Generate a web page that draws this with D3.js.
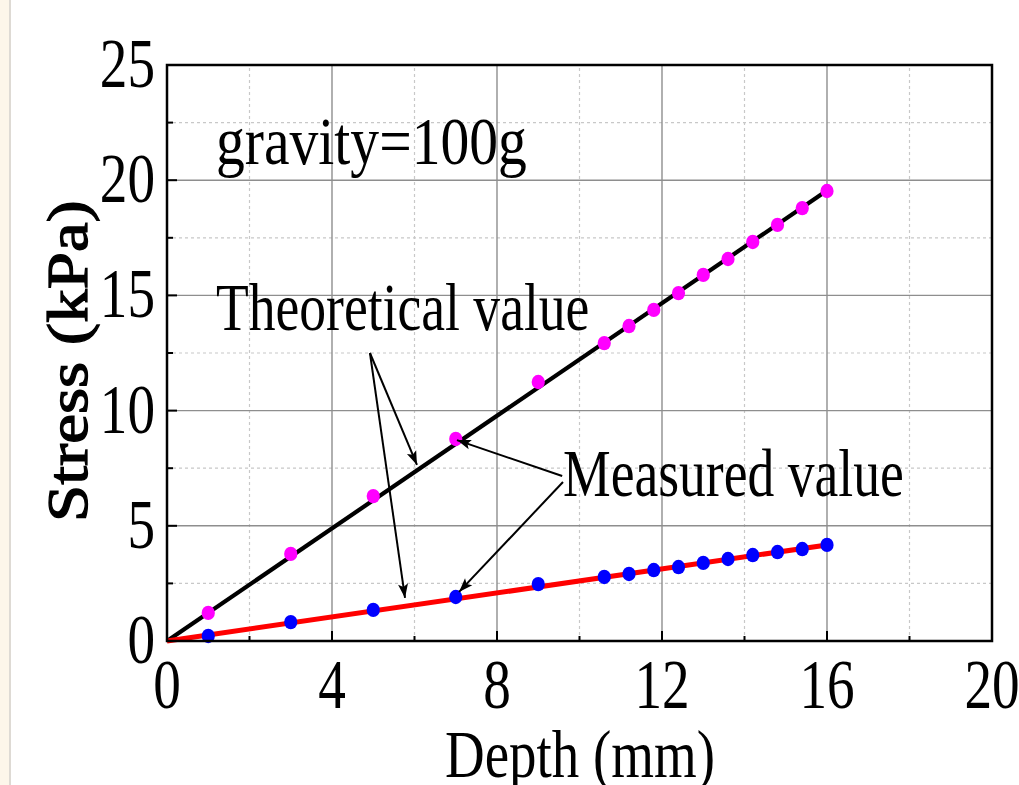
<!DOCTYPE html>
<meta charset="utf-8">
<script src="https://cdn.jsdelivr.net/npm/d3@7"></script>
<style>
  body { margin: 0; background: #fff; }
  text { font-family: "Liberation Serif", "DejaVu Serif", serif; fill: #000; }
</style>
<body>
<script>

var width = 1019
var height = 785

// measured points
var depth = [1, 3, 5, 7, 9, 10.6, 11.2, 11.8, 12.4, 13, 13.6, 14.2, 14.8, 15.4, 16]
var stressHigh = [1.22, 3.78, 6.29, 8.77, 11.24, 12.93, 13.67, 14.37, 15.10, 15.89, 16.58, 17.32, 18.06, 18.79, 19.53]
var stressLow = [0.22, 0.82, 1.35, 1.91, 2.47, 2.78, 2.91, 3.08, 3.21, 3.39, 3.56, 3.73, 3.86, 3.99, 4.17]

// theoretical lines
var theoryDepth = [0, 16]
var theoryHigh = [0, 19.55]
var theoryLow = [0, 4.17]

var xTicks = [0, 4, 8, 12, 16, 20]
var xMinor = [2, 6, 10, 14, 18]
var yTicks = [0, 5, 10, 15, 20, 25]
var yMinor = [2.5, 7.5, 12.5, 17.5, 22.5]

// annotation arrows, [fromDepth, fromStress, toDepth, toStress]
var theoryArrows = [[4.92, 12.5, 6.06, 7.64], [4.92, 12.5, 5.77, 1.87]]
var measuredArrows = [[9.58, 7.16, 7.03, 8.72], [9.6, 6.9, 7.08, 2.13]]

var x = d3.scaleLinear().domain([0, 20]).range([167, 992])
var y = d3.scaleLinear().domain([0, 25]).range([641, 65])

var svg = d3.select("body").append("svg")
            .attr("width", width)
            .attr("height", height)

// page edge strip
svg.append("rect").attr("x", 0).attr("y", 0).attr("width", 9).attr("height", height)
   .style("fill", "#fdf6ea")
svg.append("rect").attr("x", 9).attr("y", 0).attr("width", 2).attr("height", height)
   .style("fill", "#dedad4")

svg.append("defs").append("marker")
   .attr("id", "head")
   .attr("viewBox", "0 -6 14 12")
   .attr("refX", 14)
   .attr("refY", 0)
   .attr("orient", "auto")
   .attr("markerUnits", "userSpaceOnUse")
   .attr("markerWidth", 15)
   .attr("markerHeight", 12)
   .append("path")
   .attr("d", "M0,-5 L14,0 L0,5 L3,0 Z")
   .style("fill", "#000")

var grid = svg.append("g")

grid.selectAll(".vminor").data(xMinor).enter().append("line")
    .attr("x1", d => x(d)).attr("x2", d => x(d))
    .attr("y1", y(0)).attr("y2", y(25))
    .style("stroke", "#c8c8c8").style("stroke-width", 1.2).style("stroke-dasharray", "3,3")
grid.selectAll(".hminor").data(yMinor).enter().append("line")
    .attr("y1", d => y(d)).attr("y2", d => y(d))
    .attr("x1", x(0)).attr("x2", x(20))
    .style("stroke", "#c8c8c8").style("stroke-width", 1.2).style("stroke-dasharray", "3,3")
grid.selectAll(".vmajor").data(xTicks.slice(1, -1)).enter().append("line")
    .attr("x1", d => x(d)).attr("x2", d => x(d))
    .attr("y1", y(0)).attr("y2", y(25))
    .style("stroke", "#8e8e8e").style("stroke-width", 1.4)
grid.selectAll(".hmajor").data(yTicks.slice(1, -1)).enter().append("line")
    .attr("y1", d => y(d)).attr("y2", d => y(d))
    .attr("x1", x(0)).attr("x2", x(20))
    .style("stroke", "#8e8e8e").style("stroke-width", 1.4)

var line = d3.line().x(d => x(d[0])).y(d => y(d[1]))

svg.append("path")
   .datum(d3.zip(theoryDepth, theoryHigh))
   .attr("d", line)
   .style("fill", "none").style("stroke", "#000").style("stroke-width", 4.2)
svg.append("path")
   .datum(d3.zip(theoryDepth, theoryLow))
   .attr("d", line)
   .style("fill", "none").style("stroke", "#ff0000").style("stroke-width", 5)

svg.selectAll(".high").data(d3.zip(depth, stressHigh)).enter().append("ellipse")
   .attr("cx", d => x(d[0])).attr("cy", d => y(d[1]))
   .attr("rx", 6.6).attr("ry", 7.2)
   .style("fill", "#ff00ff")
svg.selectAll(".low").data(d3.zip(depth, stressLow)).enter().append("ellipse")
   .attr("cx", d => x(d[0])).attr("cy", d => y(d[1]))
   .attr("rx", 6.6).attr("ry", 7.2)
   .style("fill", "#0000ff")

svg.selectAll(".arrow").data(theoryArrows.concat(measuredArrows)).enter().append("line")
   .attr("x1", d => x(d[0])).attr("y1", d => y(d[1]))
   .attr("x2", d => x(d[2])).attr("y2", d => y(d[3]))
   .attr("marker-end", "url(#head)")
   .style("stroke", "#000").style("stroke-width", 2)

// frame
svg.append("rect")
   .attr("x", x(0)).attr("y", y(25))
   .attr("width", x(20) - x(0)).attr("height", y(0) - y(25))
   .style("fill", "none").style("stroke", "#000").style("stroke-width", 2.5)

// inward ticks
var ticks = svg.append("g").style("stroke", "#000").style("stroke-width", 2)
ticks.selectAll(".xt").data(xTicks).enter().append("line")
     .attr("x1", d => x(d)).attr("x2", d => x(d)).attr("y1", y(0)).attr("y2", y(0) - 10)
ticks.selectAll(".xm").data(xMinor).enter().append("line")
     .attr("x1", d => x(d)).attr("x2", d => x(d)).attr("y1", y(0)).attr("y2", y(0) - 5)
ticks.selectAll(".yt").data(yTicks).enter().append("line")
     .attr("y1", d => y(d)).attr("y2", d => y(d)).attr("x1", x(0)).attr("x2", x(0) + 10)
ticks.selectAll(".ym").data(yMinor).enter().append("line")
     .attr("y1", d => y(d)).attr("y2", d => y(d)).attr("x1", x(0)).attr("x2", x(0) + 6)

function label(str, px, py, anchor, size, sx) {
  return svg.append("text")
     .attr("transform", "translate(" + px + "," + py + ") scale(" + sx + ",1)")
     .style("font-size", size + "px")
     .style("text-anchor", anchor)
     .text(str)
}

xTicks.forEach(d => label(d, x(d), 708, "middle", 69, 0.8))
yTicks.forEach(d => label(d, 155, y(d) + 22, "end", 69, 0.8))

label("Depth (mm)", 580, 777, "middle", 67, 0.82)
svg.append("text")
   .attr("transform", "translate(87,361) rotate(-90) scale(1,0.86)")
   .style("font-size", "67px")
   .style("stroke", "#000")
   .style("stroke-width", 1.5)
   .style("text-anchor", "middle")
   .text("Stress (kPa)")

label("gravity=100g", 216, 164, "start", 67, 0.86)
label("Theoretical value", 216, 330, "start", 67, 0.8)
label("Measured value", 563, 496, "start", 67, 0.8)

</script>
</body>
